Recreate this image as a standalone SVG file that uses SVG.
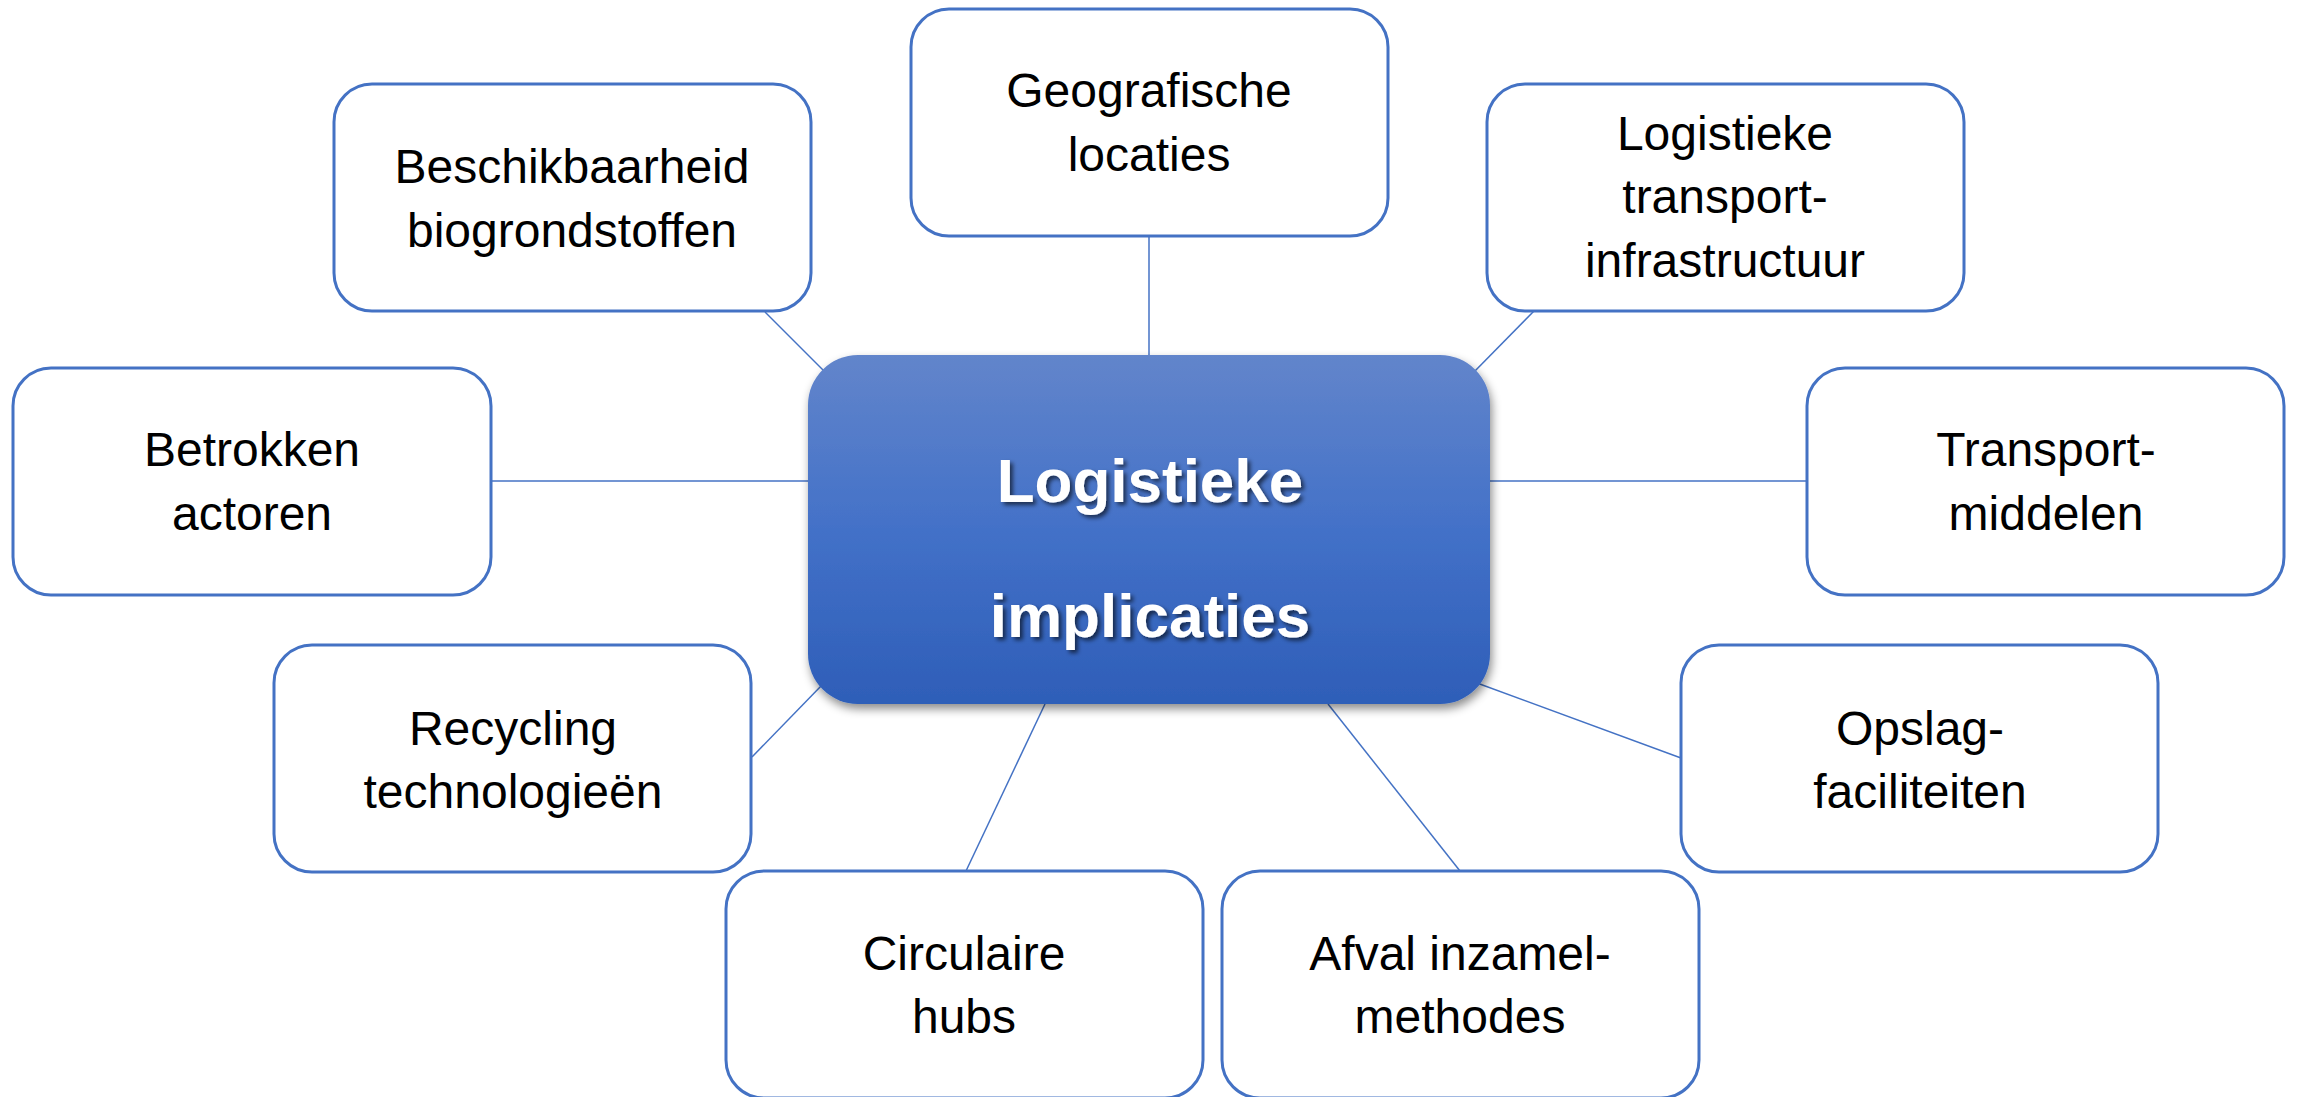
<svg xmlns="http://www.w3.org/2000/svg" width="2300" height="1097" viewBox="0 0 2300 1097">
  <defs>
    <linearGradient id="centerGrad" x1="0" y1="0" x2="0" y2="1">
      <stop offset="0" stop-color="#6285CB"/>
      <stop offset="0.5" stop-color="#4371C8"/>
      <stop offset="1" stop-color="#2E5EB8"/>
    </linearGradient>
    <filter id="boxShadow" x="-10%" y="-10%" width="125%" height="130%">
      <feGaussianBlur in="SourceAlpha" stdDeviation="5"/>
      <feOffset dx="2" dy="5" result="b"/>
      <feFlood flood-color="#000000" flood-opacity="0.45"/>
      <feComposite in2="b" operator="in"/>
      <feMerge>
        <feMergeNode/>
        <feMergeNode in="SourceGraphic"/>
      </feMerge>
    </filter>
    <filter id="textShadow" x="-10%" y="-20%" width="120%" height="150%">
      <feGaussianBlur in="SourceAlpha" stdDeviation="2"/>
      <feOffset dx="3" dy="3" result="b"/>
      <feFlood flood-color="#000000" flood-opacity="0.6"/>
      <feComposite in2="b" operator="in"/>
      <feMerge>
        <feMergeNode/>
        <feMergeNode in="SourceGraphic"/>
      </feMerge>
    </filter>
  </defs>
  <style>
    .box { fill: #FFFFFF; stroke: #4472C4; stroke-width: 3; }
    .conn { stroke: #4472C4; stroke-width: 1.5; fill: none; }
    .lbl { font-family: "Liberation Sans", Arial, sans-serif; font-size: 48px; fill: #000000; text-anchor: middle; }
    .main { font-family: "Liberation Sans", Arial, sans-serif; font-size: 62px; font-weight: bold; fill: #FFFFFF; text-anchor: middle; }
  </style>
  <rect width="2300" height="1097" fill="#FFFFFF"/>

  <g id="connectors">
    <line class="conn" x1="765" y1="312" x2="825" y2="372"/>
    <line class="conn" x1="1149" y1="236" x2="1149" y2="355"/>
    <line class="conn" x1="1534" y1="311" x2="1473" y2="373"/>
    <line class="conn" x1="492" y1="481" x2="808" y2="481"/>
    <line class="conn" x1="1490" y1="481" x2="1807" y2="481"/>
    <line class="conn" x1="752" y1="757" x2="822" y2="685"/>
    <line class="conn" x1="966" y1="871" x2="1045" y2="704"/>
    <line class="conn" x1="1460" y1="871" x2="1328" y2="704"/>
    <line class="conn" x1="1681" y1="758" x2="1477" y2="683"/>
  </g>

  <g id="node-beschikbaarheid">
    <rect class="box" x="334" y="84" width="477" height="227" rx="38"/>
    <text class="lbl" x="572" y="183">Beschikbaarheid</text>
    <text class="lbl" x="572" y="247">biogrondstoffen</text>
  </g>

  <g id="node-geografische">
    <rect class="box" x="911" y="9" width="477" height="227" rx="38"/>
    <text class="lbl" x="1149" y="107">Geografische</text>
    <text class="lbl" x="1149" y="171">locaties</text>
  </g>

  <g id="node-logistieke-transport">
    <rect class="box" x="1487" y="84" width="477" height="227" rx="38"/>
    <text class="lbl" x="1725" y="150">Logistieke</text>
    <text class="lbl" x="1725" y="213">transport-</text>
    <text class="lbl" x="1725" y="277">infrastructuur</text>
  </g>

  <g id="node-betrokken">
    <rect class="box" x="13" y="368" width="478" height="227" rx="38"/>
    <text class="lbl" x="252" y="466">Betrokken</text>
    <text class="lbl" x="252" y="530">actoren</text>
  </g>

  <g id="node-transportmiddelen">
    <rect class="box" x="1807" y="368" width="477" height="227" rx="38"/>
    <text class="lbl" x="2046" y="466">Transport-</text>
    <text class="lbl" x="2046" y="530">middelen</text>
  </g>

  <g id="node-recycling">
    <rect class="box" x="274" y="645" width="477" height="227" rx="38"/>
    <text class="lbl" x="513" y="745">Recycling</text>
    <text class="lbl" x="513" y="808">technologieën</text>
  </g>

  <g id="node-opslag">
    <rect class="box" x="1681" y="645" width="477" height="227" rx="38"/>
    <text class="lbl" x="1920" y="745">Opslag-</text>
    <text class="lbl" x="1920" y="808">faciliteiten</text>
  </g>

  <g id="node-circulaire">
    <rect class="box" x="726" y="871" width="477" height="227" rx="38"/>
    <text class="lbl" x="964" y="970">Circulaire</text>
    <text class="lbl" x="964" y="1033">hubs</text>
  </g>

  <g id="node-afval">
    <rect class="box" x="1222" y="871" width="477" height="227" rx="38"/>
    <text class="lbl" x="1460" y="970">Afval inzamel-</text>
    <text class="lbl" x="1460" y="1033">methodes</text>
  </g>

  <g id="node-center">
    <rect x="808" y="355" width="682" height="349" rx="50" fill="url(#centerGrad)" filter="url(#boxShadow)"/>
    <g filter="url(#textShadow)">
      <text class="main" x="1150" y="502">Logistieke</text>
      <text class="main" x="1150" y="637">implicaties</text>
    </g>
  </g>
</svg>
